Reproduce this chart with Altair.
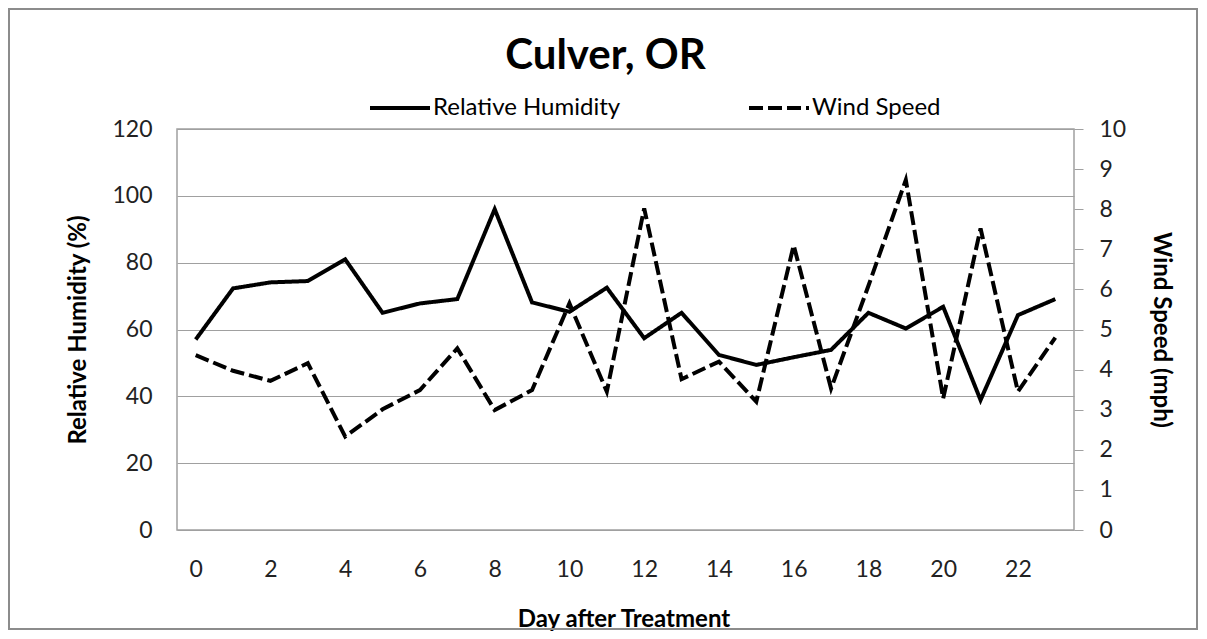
import altair as alt
import pandas as pd

days = list(range(24))
humidity = [57, 72.3, 74.1, 74.5, 81, 65, 67.8, 69.1, 96, 68.1, 65.3, 72.5,
            57.4, 65, 52.4, 49.4, 51.7, 53.9, 65, 60.3, 66.8, 38.9, 64.3, 69.1]
wind = [4.36, 3.97, 3.72, 4.16, 2.33, 3.01, 3.49, 4.53, 2.99, 3.49, 5.65, 3.45,
        8.02, 3.76, 4.2, 3.2, 7.1, 3.53, 6.09, 8.73, 3.28, 7.52, 3.45, 4.8]
series = ["Relative Humidity", "Wind Speed"]
x_ticks = list(range(0, 23, 2))
rh_ticks = [0, 20, 40, 60, 80, 100, 120]
ws_ticks = list(range(0, 11))

df = pd.DataFrame({"day": days, "rh": humidity, "ws": wind})

W, H = 897, 401
GRID = "#a0a0a0"
FONT = "Lato"

dash_scale = alt.Scale(domain=series, range=[[1, 0], [14, 5]])
legend = alt.Legend(title=None)

x_enc = alt.X(
    "day:Q",
    scale=alt.Scale(domain=[-0.5, 23.5], nice=False, zero=False),
    axis=alt.Axis(values=x_ticks, grid=False, ticks=False, domain=False,
                  labelPadding=28, labelFontSize=23, labelFont=FONT, labelColor="#222",
                  title="Day after Treatment", titleFont=FONT, titleFontSize=24,
                  titleFontWeight="bold", titleX=W / 2 - 2, titleY=96,
                  titleBaseline="alphabetic", titleColor="black"),
)

base = alt.Chart(df)

rh_line = base.mark_line(color="black", strokeWidth=4).encode(
    x=x_enc,
    y=alt.Y("rh:Q", scale=alt.Scale(domain=[0, 120]),
            axis=alt.Axis(values=rh_ticks, grid=True, gridColor=GRID, ticks=False,
                          domain=False, labelPadding=25, labelFontSize=23,
                          labelFont=FONT, labelColor="#222",
                          title="Relative Humidity (%)", titleFont=FONT,
                          titleFontSize=24, titleFontWeight="bold", titleX=-99,
                          titleY=H / 2, titleAngle=270, titleBaseline="middle",
                          titleAlign="center", titleColor="black")),
    strokeDash=alt.StrokeDash("s:N", scale=dash_scale, legend=legend),
).transform_calculate(s="'Relative Humidity'")

ws_line = base.mark_line(color="black", strokeWidth=4).encode(
    x=x_enc,
    y=alt.Y("ws:Q", scale=alt.Scale(domain=[0, 10]),
            axis=alt.Axis(orient="right", values=ws_ticks, grid=False, ticks=True,
                          tickSize=9, tickColor=GRID, domain=False, labelPadding=16,
                          labelFontSize=23, labelFont=FONT, labelColor="#222",
                          title="Wind Speed (mph)", titleFont=FONT, titleFontSize=24,
                          titleFontWeight="bold", titleX=86, titleY=H / 2,
                          titleAngle=90, titleBaseline="middle", titleAlign="center",
                          titleColor="black")),
    strokeDash=alt.StrokeDash("s:N", scale=dash_scale, legend=legend),
).transform_calculate(s="'Wind Speed'")

border = alt.Chart(pd.DataFrame({"b": [0]})).mark_rect(
    fill=None, stroke="#8c8c8c", strokeWidth=2
).encode(x=alt.value(-168), x2=alt.value(W + 123), y=alt.value(-120), y2=alt.value(H + 99))

chart = alt.layer(rh_line, ws_line, border).resolve_scale(y="independent").properties(
    width=W,
    height=H,
    autosize=alt.AutoSizeParams(type="none"),
    padding={"left": 169, "top": 121, "right": 125, "bottom": 101},
    title=alt.TitleParams("Culver, OR", font=FONT, fontSize=42, fontWeight="bold",
                          anchor="middle", color="black", offset=-103, dx=-20,
                          baseline="alphabetic"),
).configure_view(stroke=GRID, strokeWidth=1.5).configure_legend(
    orient="none", legendX=191, legendY=-53, direction="horizontal",
    symbolType="stroke", symbolSize=3600, symbolStrokeWidth=4,
    symbolStrokeColor="black", labelFont=FONT, labelFontSize=24,
    labelColor="black", labelOffset=1, columnPadding=120, padding=0,
    labelLimit=400,
)

chart.save("out.html", embed_options={"renderer": "svg", "actions": False})
